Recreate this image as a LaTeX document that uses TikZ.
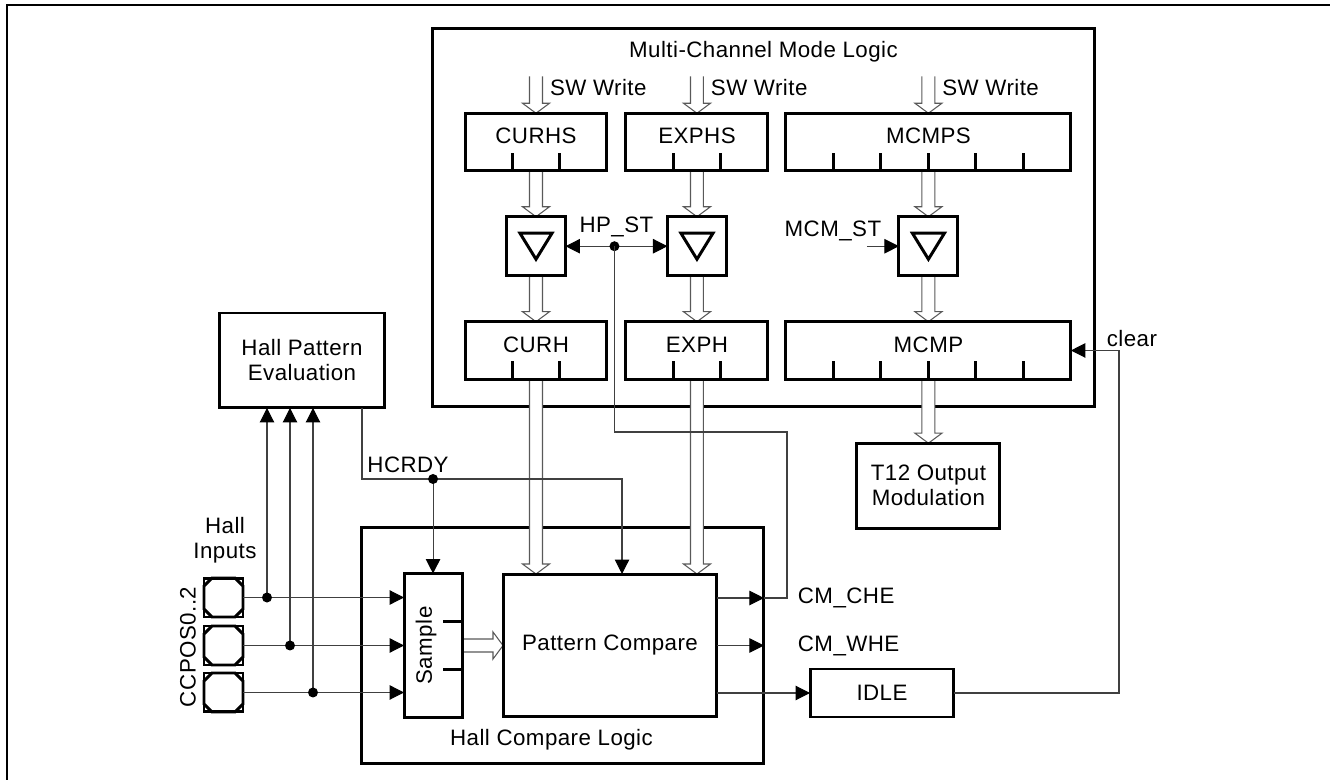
\documentclass[tikz,border=0pt]{standalone}
\usepackage{fontspec}
\setmainfont[LetterSpace=2]{Liberation Sans}
\usetikzlibrary{arrows.meta, positioning, calc, backgrounds}
\pgfdeclarelayer{bus}
\pgfsetlayers{background,bus,main}

% hollow bus arrow from #1 to #2
\newcommand{\busarrow}[2]{%
  \coordinate (bh) at ($(#2)!0.2cm!(#1)$);
  \filldraw[bus] ($(#1)!0.13cm!90:(#2)$) -- ($(bh)!0.13cm!90:(#2)$)
    -- ($(bh)!0.27cm!90:(#2)$) -- (#2) -- ($(bh)!0.27cm!-90:(#2)$)
    -- ($(bh)!0.13cm!-90:(#2)$) -- ($(#1)!0.13cm!-90:(#2)$);
}

\begin{document}
\begin{tikzpicture}[x=0.02cm, y=-0.02cm,
        every node/.style={font=\fontsize{12.7}{14.2}\selectfont, inner sep=0pt, outer sep=0pt},
        group/.style={draw, line width=1.7pt},
        reg/.style={draw, line width=1.7pt, minimum width=2.84cm, minimum height=1.15cm,
            text height=9pt, text depth=6.8pt},
        wide/.style={reg, minimum width=5.7cm},
        latch/.style={draw, line width=1.7pt, minimum size=1.18cm},
        block/.style={draw, line width=1.7pt, align=center},
        pad/.style={draw, line width=1.7pt, minimum size=0.78cm},
        tick/.style={line width=1.7pt},
        sig/.style={draw=black!75, line width=0.6pt},
        arr/.style={sig, -{Triangle[length=0.29cm, width=0.29cm, color=black]}},
        arrs/.style={sig, {Triangle[length=0.29cm, width=0.29cm, color=black]}-{Triangle[length=0.29cm, width=0.29cm, color=black]}},
        bus/.style={fill=white, draw=black!65, line width=0.6pt}
    ]
\useasboundingbox (0,0) rectangle (1330,780);
\draw[line width=1pt] (7,780) -- (7,5) -- (1330,5);

% --- group boxes ---
\begin{scope}[on background layer]
    \node[group, minimum width=13.26cm, minimum height=7.58cm] (mcm) at (763.5,217.5) {};
    \node[group, minimum width=8.06cm, minimum height=4.74cm] (hcl) at (562.5,645.5) {};
\end{scope}
\node at ($(mcm.north)+(0,24)$) {Multi-Channel Mode Logic};
\node at ($(hcl.south)+(-11,-24)$) {Hall Compare Logic};

% --- shadow registers ---
\node[reg] (curhs) at (536,142) {CURHS};
\node[reg, right=0.38cm of curhs] (exphs) {EXPHS};
\node[wide, right=0.36cm of exphs] (mcmps) {MCMPS};

% --- transfer latches ---
\node[latch, below=0.92cm of curhs] (lcur) {};
\node[latch, below=0.92cm of exphs] (lexp) {};
\node[latch, below=0.92cm of mcmps] (lmcm) {};

% --- actual registers ---
\node[reg, below=0.92cm of lcur] (curh) {CURH};
\node[reg, below=0.92cm of lexp] (exph) {EXPH};
\node[wide, below=0.92cm of lmcm] (mcmp) {MCMP};
\node[block, minimum width=2.86cm, minimum height=1.7cm, below=1.28cm of mcmp] (t12) {T12 Output\\Modulation};

% --- hall side ---
\node[block, minimum width=3.32cm, minimum height=1.9cm] (hpe) at (302,360.5) {Hall Pattern\\Evaluation};
\node[block, minimum width=4.28cm, minimum height=2.86cm] (pcmp) at (610,645.5) {Pattern Compare};
\node[block, minimum width=1.16cm, minimum height=2.88cm, left=0.82cm of pcmp] (smp) {};
\node[rotate=90] at ($(smp.center)+(-7,0)$) {Sample};
\node[block, minimum width=2.88cm, minimum height=0.96cm] (idle) at (882,693) {IDLE};

\node[pad] (pad2) at (223.5,645.5) {};
\node[pad, above=0.18cm of pad2] (pad1) {};
\node[pad, below=0.16cm of pad2] (pad3) {};
\node[align=center] at ($(pad1.north)+(1.5,-38)$) {Hall\\Inputs};
\node[rotate=90] at ($(pad2.west)+(-16,1.5)$) {CCPOS0..2};

% ticks, symbols
\foreach \r in {curhs,exphs,curh,exph}
    \foreach \k in {1,2}
        \draw[tick] ($(\r.south west)!\k/3!(\r.south east)$) -- ++(0,-18);
\foreach \r in {mcmps,mcmp}
    \foreach \k in {1,...,5}
        \draw[tick] ($(\r.south west)!\k/6!(\r.south east)$) -- ++(0,-18);
\foreach \k in {1,2}
    \draw[tick] ($(smp.north east)!\k/3!(smp.south east)$) -- ++(-19,0);
\foreach \l in {lcur,lexp,lmcm}
    \draw[line width=1.7pt, line join=miter] ($(\l.center)+(-16,-13)$) -- ++(32,0) -- ++(-16,26) -- cycle;
\foreach \p in {pad1,pad2,pad3}
    \draw[line width=1.7pt] ($(\p.north west)+(8,0)$) -- ($(\p.north east)+(-8,0)$)
        -- ($(\p.north east)+(0,8)$) -- ($(\p.south east)+(0,-8)$)
        -- ($(\p.south east)+(-8,0)$) -- ($(\p.south west)+(8,0)$)
        -- ($(\p.south west)+(0,-8)$) -- ($(\p.north west)+(0,8)$) -- cycle;

% --- bus arrows ---
\coordinate (swcur) at ($(curhs.north)+(0,-37)$);
\coordinate (swexp) at ($(exphs.north)+(0,-37)$);
\coordinate (swmcm) at ($(mcmps.north)+(0,-37)$);
\coordinate (incur) at (curh.south |- pcmp.north);
\coordinate (inexp) at (exph.south |- pcmp.north);
\begin{pgfonlayer}{bus}
    \busarrow{swcur}{curhs.north}
    \busarrow{swexp}{exphs.north}
    \busarrow{swmcm}{mcmps.north}
    \busarrow{curhs.south}{lcur.north}
    \busarrow{exphs.south}{lexp.north}
    \busarrow{mcmps.south}{lmcm.north}
    \busarrow{lcur.south}{curh.north}
    \busarrow{lexp.south}{exph.north}
    \busarrow{lmcm.south}{mcmp.north}
    \busarrow{curh.south}{incur}
    \busarrow{exph.south}{inexp}
    \busarrow{mcmp.south}{t12.north}
    \busarrow{smp.east}{pcmp.west}
\end{pgfonlayer}
\foreach \c in {swcur,swexp,swmcm}
    \node[anchor=west] at ($(\c)+(14,11)$) {SW Write};

% --- HP_ST / CM_CHE ---
\coordinate (hpdot) at ($(lcur.east)!0.48!(lexp.west)$);
\coordinate (che) at ($(pcmp.north east)+(0,24)$);
\coordinate (hpbend) at (787,432);
\draw[arrs] (lcur.east) -- (lexp.west);
\fill (hpdot) circle (0.1cm);
\node at ($(hpdot)+(2,-19)$) {HP\_ST};
\draw[arr] (che) -- (che -| hcl.east);
\draw[sig] (che -| hcl.east) -| (hpbend) -| (hpdot);
\node[anchor=west] at ($(che -| hcl.east)+(34,0)$) {CM\_CHE};
\draw[arr] (pcmp.east) -- (pcmp.east -| hcl.east);
\node[anchor=west] at ($(pcmp.east -| hcl.east)+(34,0)$) {CM\_WHE};
\draw[arr] (pcmp.east |- idle.west) -- (idle.west);
\draw[arr] (idle.east) -- ++(165,0) |- (mcmp.east);
\node at ($(mcmp.east)+(61,-12)$) {clear};

% --- MCM_ST ---
\coordinate (mcmst) at ($(lmcm.west)+(-32,0)$);
\draw[arr] (mcmst) -- (lmcm.west);
\node at ($(lmcm.west)+(-66,-15)$) {MCM\_ST};

% --- HCRDY ---
\coordinate (hcout) at ($(hpe.south east)+(-23,0)$);
\coordinate (hcrdy) at (smp.north |- 0,479);
\draw[arr] (hcout) |- (hcrdy) -| ($(pcmp.north west)+(119,0)$);
\draw[arr] (hcrdy) -- (smp.north);
\fill (hcrdy) circle (0.1cm);
\node at ($(hcrdy)+(-25,-14)$) {HCRDY};

% --- hall inputs ---
\foreach \i/\x in {1/267, 2/290, 3/313} {
    \draw[arr] (pad\i.east) -- (pad\i.east -| smp.west);
    \coordinate (tap\i) at (pad\i.east -| \x,0);
    \draw[arr] (tap\i) -- (tap\i |- hpe.south);
    \fill (tap\i) circle (0.1cm);
}
\end{tikzpicture}
\end{document}
